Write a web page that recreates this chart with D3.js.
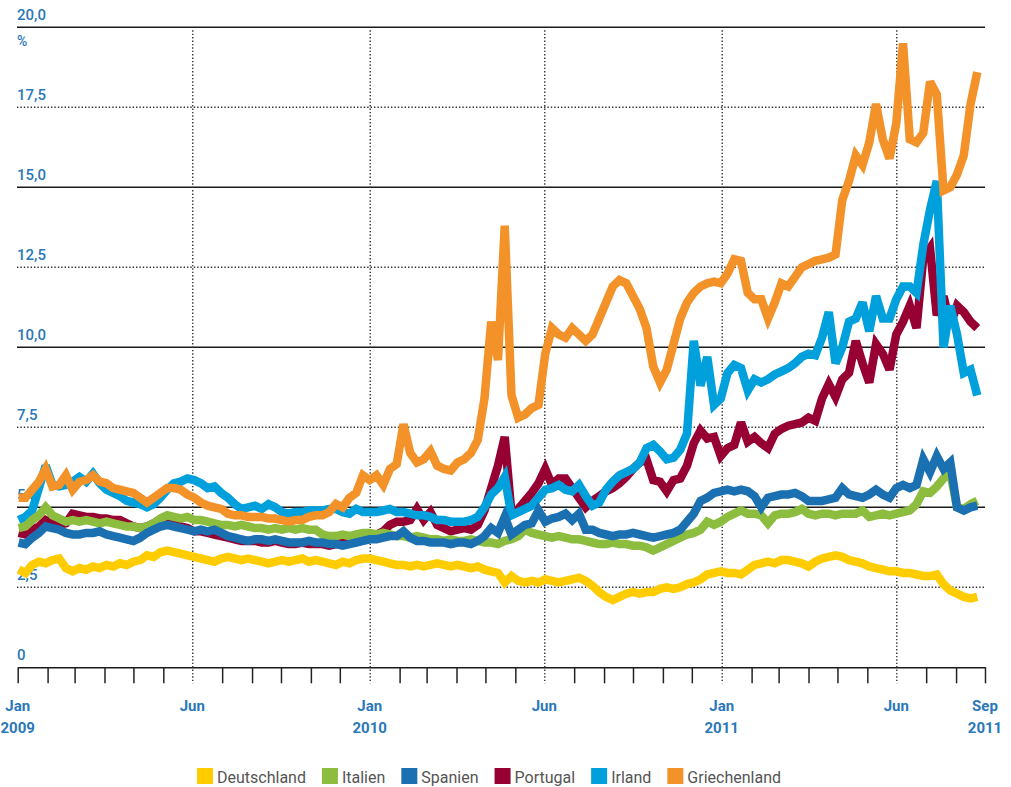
<!DOCTYPE html>
<html>
<head>
<meta charset="utf-8">
<script src="https://cdn.jsdelivr.net/npm/d3@7"></script>
<style>
body { margin: 0; background: #fff; }
text { font-family: Roboto, "DejaVu Sans", sans-serif; }
</style>
</head>
<body>
<script>
// weekly values (Fridays), Jan 2009 - Sep 2011, yield in %
var firstWeek = new Date(2009, 0, 2);

var deutschland = [3.05,2.95,3.2,3.3,3.25,3.35,3.4,3.1,3.0,3.1,
    3.05,3.15,3.1,3.2,3.15,3.25,3.2,3.3,3.35,3.5,
    3.45,3.6,3.65,3.6,3.55,3.5,3.45,3.4,3.35,3.3,
    3.4,3.45,3.4,3.35,3.4,3.35,3.3,3.25,3.3,3.35,
    3.3,3.35,3.4,3.3,3.35,3.3,3.25,3.2,3.3,3.25,
    3.35,3.4,3.4,3.35,3.3,3.25,3.2,3.2,3.15,3.2,
    3.15,3.2,3.25,3.2,3.15,3.2,3.15,3.1,3.15,3.05,
    3.0,2.95,2.65,2.85,2.7,2.65,2.7,2.65,2.75,2.7,
    2.65,2.7,2.75,2.8,2.7,2.55,2.35,2.2,2.1,2.2,
    2.3,2.35,2.3,2.35,2.35,2.45,2.5,2.45,2.5,2.6,
    2.65,2.75,2.9,2.95,3.0,2.95,2.95,2.9,3.05,3.2,
    3.25,3.3,3.25,3.35,3.35,3.3,3.25,3.15,3.3,3.4,
    3.45,3.5,3.45,3.35,3.3,3.25,3.15,3.1,3.05,3.0,
    3.0,2.95,2.95,2.9,2.85,2.85,2.9,2.6,2.4,2.3,
    2.2,2.15,2.2];

var italien = [4.35,4.4,4.6,4.75,5.0,4.75,4.65,4.55,4.6,4.55,
    4.6,4.55,4.5,4.55,4.5,4.45,4.4,4.4,4.35,4.4,
    4.5,4.65,4.75,4.7,4.65,4.7,4.6,4.6,4.55,4.5,
    4.45,4.45,4.4,4.45,4.4,4.35,4.35,4.3,4.35,4.3,
    4.35,4.3,4.35,4.3,4.3,4.15,4.1,4.1,4.15,4.1,
    4.15,4.2,4.2,4.15,4.2,4.15,4.1,4.1,4.05,4.1,
    4.05,4.0,4.0,3.95,4.0,3.95,3.95,4.0,3.95,3.9,
    3.9,3.85,3.95,4.0,4.1,4.3,4.2,4.15,4.1,4.05,
    4.1,4.05,4.0,4.0,3.95,3.9,3.85,3.85,3.9,3.85,
    3.85,3.8,3.8,3.75,3.65,3.75,3.85,3.95,4.05,4.15,
    4.2,4.3,4.55,4.45,4.55,4.7,4.8,4.9,4.8,4.8,
    4.75,4.5,4.75,4.8,4.8,4.85,4.95,4.8,4.75,4.8,
    4.8,4.75,4.8,4.8,4.8,4.9,4.7,4.75,4.8,4.75,
    4.8,4.85,4.9,5.1,5.5,5.45,5.65,5.9,6.1,5.0,
    4.95,5.1,5.2];

var spanien = [3.9,3.85,4.05,4.2,4.4,4.35,4.3,4.2,4.15,4.15,
    4.2,4.2,4.25,4.15,4.1,4.05,4.0,3.95,4.05,4.2,
    4.3,4.4,4.45,4.4,4.35,4.3,4.25,4.3,4.25,4.3,
    4.2,4.1,4.05,4.0,3.95,4.0,4.0,3.95,4.0,3.95,
    3.9,3.9,3.9,3.95,3.9,3.9,3.85,3.85,3.8,3.85,
    3.9,3.95,4.0,4.0,4.05,4.1,4.1,4.25,4.05,3.95,
    3.95,3.9,3.9,3.9,3.85,3.9,3.9,3.85,3.95,4.1,
    4.35,4.2,4.7,4.15,4.3,4.45,4.5,4.9,4.55,4.65,
    4.7,4.8,4.6,4.8,4.3,4.3,4.2,4.15,4.1,4.15,
    4.15,4.2,4.15,4.1,4.05,4.1,4.15,4.2,4.3,4.55,
    4.8,5.2,5.3,5.45,5.5,5.55,5.5,5.55,5.5,5.35,
    5.0,5.3,5.35,5.4,5.4,5.45,5.35,5.2,5.2,5.2,
    5.25,5.3,5.6,5.4,5.35,5.3,5.4,5.55,5.4,5.3,
    5.6,5.7,5.6,5.7,6.5,6.1,6.6,6.2,6.4,5.0,
    4.9,5.0,5.05];

var portugal = [4.2,4.15,4.3,4.4,4.6,4.5,4.45,4.5,4.8,4.75,
    4.7,4.7,4.65,4.65,4.6,4.6,4.5,4.4,4.35,4.4,
    4.5,4.55,4.5,4.45,4.4,4.35,4.25,4.25,4.2,4.15,
    4.1,4.05,4.0,3.95,3.95,3.95,3.9,3.9,3.95,3.9,
    3.85,3.85,3.9,3.85,3.85,3.85,3.8,3.85,3.9,3.95,
    4.0,4.05,4.1,4.15,4.25,4.45,4.55,4.55,4.6,4.95,
    4.6,4.85,4.45,4.35,4.25,4.3,4.35,4.3,4.45,4.9,
    5.6,6.3,7.2,4.8,4.95,5.2,5.45,5.75,6.2,5.7,
    5.9,5.9,5.6,5.3,5.0,5.2,5.35,5.5,5.6,5.75,
    5.95,6.2,6.4,6.5,5.85,5.8,5.5,5.85,5.9,6.3,
    7.0,7.4,7.15,7.2,6.6,6.85,6.95,7.65,7.05,7.2,
    7.0,6.85,7.3,7.45,7.55,7.6,7.65,7.8,7.7,8.4,
    8.85,8.45,9.0,9.2,10.2,9.5,8.9,10.1,9.8,9.3,
    10.4,10.8,11.3,10.6,12.8,13.1,11.0,11.6,10.7,11.3,
    11.1,10.8,10.6];

var irland = [4.6,4.7,4.9,5.6,6.3,5.7,5.65,5.7,5.8,5.95,
    5.8,6.05,5.75,5.55,5.45,5.35,5.2,5.15,5.1,5.0,
    5.1,5.3,5.55,5.75,5.8,5.9,5.85,5.75,5.6,5.65,
    5.45,5.3,5.1,4.95,5.0,5.05,4.95,5.1,5.0,4.85,
    4.8,4.85,4.85,4.9,4.9,4.9,4.95,4.95,4.85,4.8,
    4.95,4.85,4.85,4.85,4.9,4.95,4.85,4.85,4.8,4.75,
    4.75,4.7,4.6,4.6,4.55,4.55,4.55,4.6,4.7,5.0,
    5.4,5.6,5.95,4.75,4.85,4.95,5.05,5.3,5.55,5.6,
    5.7,5.55,5.5,5.7,5.35,5.05,5.15,5.55,5.8,6.0,
    6.1,6.2,6.4,6.85,6.95,6.75,6.5,6.55,6.8,7.3,
    10.2,8.8,9.7,8.2,8.4,9.2,9.45,9.35,8.65,9.0,
    8.9,9.0,9.15,9.25,9.35,9.5,9.7,9.8,9.75,10.3,
    11.1,9.5,10.0,10.8,10.9,11.4,10.5,11.6,10.9,10.9,
    11.5,11.9,11.9,11.7,13.2,14.3,15.2,10.0,11.3,10.4,
    9.2,9.3,8.5];

var griechenland = [5.3,5.3,5.55,5.8,6.2,5.65,5.7,6.0,5.55,5.8,
    5.85,6.0,5.8,5.75,5.6,5.55,5.5,5.45,5.3,5.15,
    5.3,5.45,5.6,5.6,5.55,5.4,5.3,5.15,5.05,5.0,
    4.95,4.8,4.75,4.75,4.7,4.7,4.7,4.65,4.65,4.6,
    4.55,4.6,4.6,4.7,4.75,4.75,4.85,5.1,5.0,5.3,
    5.45,6.0,5.85,6.0,5.7,6.2,6.35,7.6,6.7,6.4,
    6.5,6.75,6.3,6.2,6.15,6.4,6.5,6.7,7.1,8.4,
    10.8,9.6,13.8,8.5,7.8,7.9,8.1,8.2,9.8,10.6,
    10.4,10.3,10.6,10.4,10.2,10.4,10.9,11.4,11.9,12.1,
    12.0,11.6,11.2,10.6,9.4,8.9,9.3,10.1,10.9,11.4,
    11.7,11.9,12.0,12.05,12.0,12.3,12.75,12.7,11.7,11.5,
    11.5,10.9,11.4,12.0,11.9,12.2,12.5,12.6,12.7,12.75,
    12.8,12.9,14.6,15.2,16.0,15.7,16.4,17.6,16.5,15.9,
    17.0,19.5,16.5,16.4,16.7,18.3,17.9,14.9,15.0,15.4,
    16.0,17.6,18.6];

var countries = ["Deutschland", "Italien", "Spanien", "Portugal", "Irland", "Griechenland"];
var colors = ["#ffcc00", "#8cbd3f", "#1a70b0", "#960032", "#00a0dc", "#f29229"];
var seriesValues = [deutschland, italien, spanien, portugal, irland, griechenland];
var drawOrder = [3, 4, 1, 2, 0, 5];

var yTicks = [0, 2.5, 5, 7.5, 10, 12.5, 15, 17.5, 20];
var yTickLabels = ["0", "2,5", "5,0", "7,5", "10,0", "12,5", "15,0", "17,5", "20,0"];

var labelDates = [new Date(2009, 0, 1), new Date(2009, 6, 1), new Date(2010, 0, 1),
    new Date(2010, 6, 1), new Date(2011, 0, 1), new Date(2011, 6, 1), new Date(2011, 9, 1)];
var labelMonths = ["Jan", "Jun", "Jan", "Jun", "Jan", "Jun", "Sep"];
var labelYears = ["2009", "", "2010", "", "2011", "", "2011"];

var blue = "#2a78b8";

var svg = d3.select("body")
    .append("svg")
    .attr("width", 1011)
    .attr("height", 787);

var x = d3.scaleTime()
    .domain([new Date(2009, 0, 1), new Date(2011, 9, 1)])
    .range([17.7, 985]);

var y = d3.scaleLinear()
    .domain([0, 20])
    .range([667.3, 27.3]);

var dates = deutschland.map(function (d, i) {
    return d3.timeDay.offset(firstWeek, i * 7);
});

// horizontal grid
svg.selectAll(".hgrid")
    .data(yTicks.filter(function (d) { return d > 0; }))
    .enter()
    .append("line")
    .attr("x1", 17)
    .attr("x2", 985)
    .attr("y1", function (d) { return y(d); })
    .attr("y2", function (d) { return y(d); })
    .attr("stroke", function (d) { return d % 5 === 0 ? "#1a1a1a" : "#333"; })
    .attr("stroke-width", function (d) { return d % 5 === 0 ? 1.4 : 1.4; })
    .attr("stroke-dasharray", function (d) { return d % 5 === 0 ? null : "1.4,2"; });

// x axis, monthly ticks
var xAxis = svg.append("g")
    .attr("transform", "translate(0," + y(0) + ")")
    .call(d3.axisBottom(x)
        .ticks(d3.timeMonth.every(1))
        .tickSize(16)
        .tickSizeOuter(0)
        .tickFormat(""));

xAxis.select(".domain")
    .attr("stroke", "#1a1a1a")
    .attr("stroke-width", 1.6);

xAxis.selectAll(".tick line")
    .attr("stroke", "#222")
    .attr("stroke-width", 1.5)
    .each(function (d) {
        var inner = d > x.domain()[0] && d < x.domain()[1];
        if (inner && (d.getMonth() === 0 || d.getMonth() === 6)) {
            d3.select(this)
                .attr("y1", y(20) + 3 - y(0))
                .attr("stroke", "#333")
                .attr("stroke-width", 1.4)
                .attr("stroke-dasharray", "1.4,2");
        }
    });

// y labels
svg.selectAll(".ylab")
    .data(yTicks)
    .enter()
    .append("text")
    .attr("x", 17)
    .attr("y", function (d) { return y(d) - 7; })
    .attr("fill", blue)
    .style("font-size", "15px")
    .style("font-weight", 500)
    .text(function (d, i) { return yTickLabels[i]; });

svg.append("text")
    .attr("x", 17)
    .attr("y", 46)
    .attr("fill", blue)
    .style("font-size", "14px")
    .style("font-weight", 500)
    .text("%");

// x labels
var xl = svg.selectAll(".xlab")
    .data(labelDates)
    .enter()
    .append("text")
    .attr("text-anchor", "middle")
    .attr("fill", blue)
    .style("font-size", "15px")
    .style("font-weight", 700);

xl.append("tspan")
    .attr("x", function (d) { return x(d); })
    .attr("y", 711)
    .text(function (d, i) { return labelMonths[i]; });

xl.append("tspan")
    .attr("x", function (d) { return x(d); })
    .attr("y", 733)
    .text(function (d, i) { return labelYears[i]; });

// lines
var line = d3.line()
    .x(function (d, i) { return x(dates[i]); })
    .y(function (d) { return y(d); });

svg.selectAll(".series")
    .data(drawOrder)
    .enter()
    .append("path")
    .attr("d", function (k) { return line(seriesValues[k]); })
    .attr("fill", "none")
    .attr("stroke", function (k) { return colors[k]; })
    .attr("stroke-width", 8.5)
    .attr("stroke-linejoin", "miter")
    .attr("stroke-miterlimit", 3);

// legend
var lx = 197;
countries.forEach(function (name, i) {
    svg.append("rect")
        .attr("x", lx)
        .attr("y", 768)
        .attr("width", 16)
        .attr("height", 16)
        .attr("fill", colors[i]);
    var t = svg.append("text")
        .attr("x", lx + 20)
        .attr("y", 783)
        .attr("fill", "#555")
        .style("font-size", "16px")
        .text(name);
    lx += 20 + t.node().getComputedTextLength() + 16;
});
</script>
</body>
</html>
